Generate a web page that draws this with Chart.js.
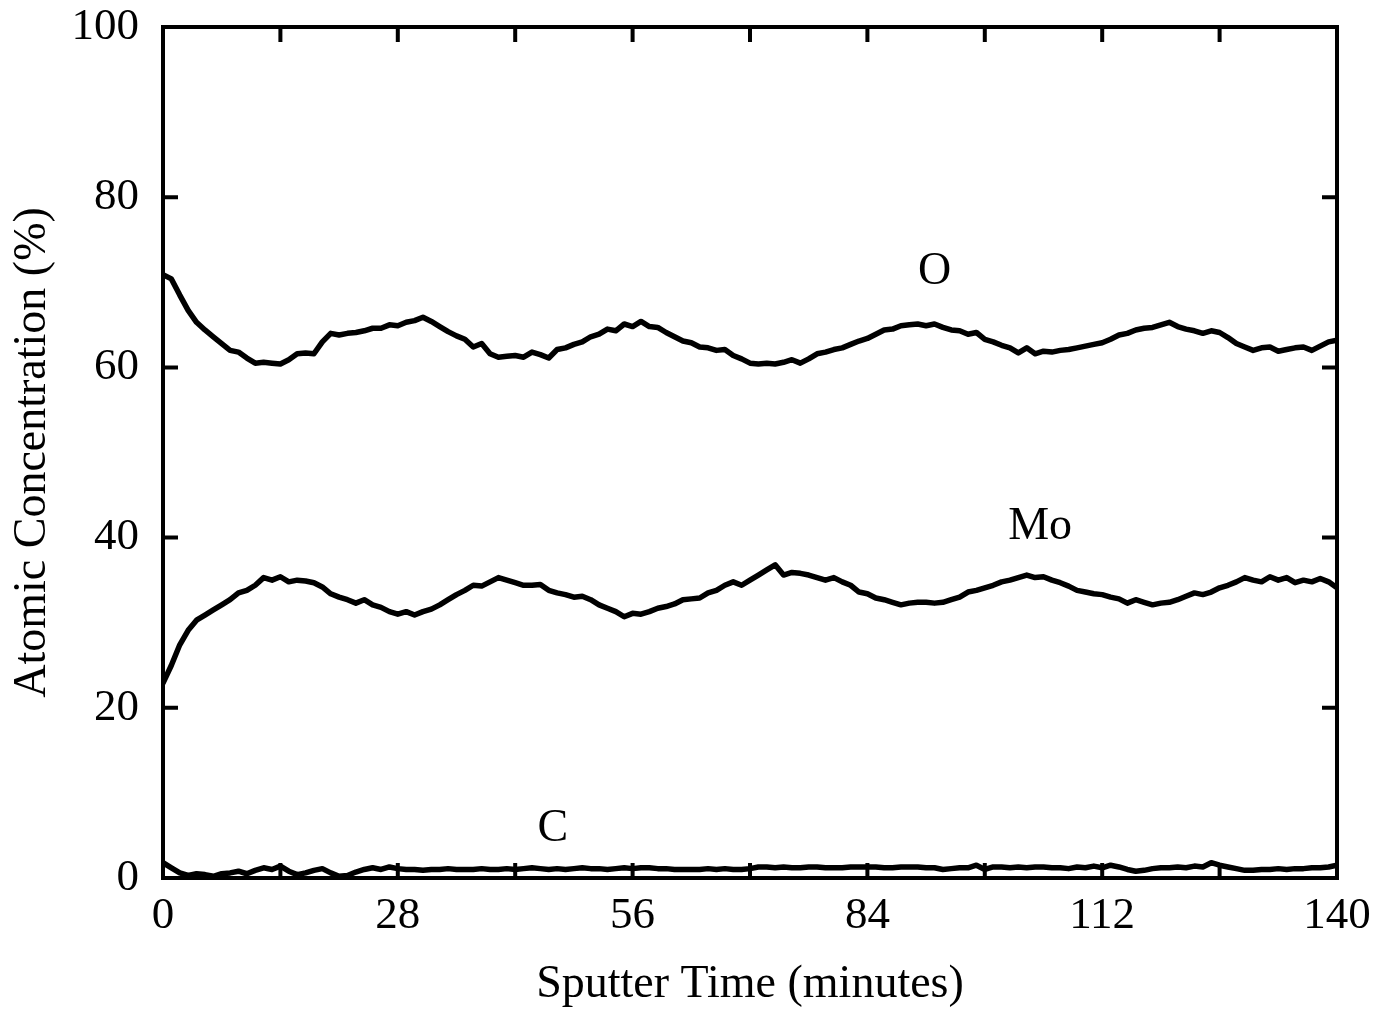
<!DOCTYPE html>
<html>
<head>
<meta charset="utf-8">
<script src="https://cdn.jsdelivr.net/npm/chart.js@4.4.1/dist/chart.umd.min.js"></script>
<style>
  html, body { margin: 0; padding: 0; background: #ffffff; }
  #wrap { width: 1400px; height: 1013px; }
</style>
</head>
<body>
<div id="wrap"><canvas id="c" width="1400" height="1013"></canvas></div>
<script>
// Sputter time grid (minutes)
const time = [];
for (let t = 0; t <= 140; t++) time.push(t);

// Oxygen atomic concentration (%)
const oxygen = [
  70.9,70.4,68.5,66.7,65.3,64.4,63.6,62.8,62.0,61.8,
  61.1,60.5,60.6,60.5,60.4,60.9,61.6,61.7,61.6,63.0,
  64.0,63.8,64.0,64.1,64.3,64.6,64.6,65.0,64.9,65.3,
  65.5,65.9,65.4,64.8,64.2,63.7,63.3,62.4,62.8,61.6,
  61.2,61.3,61.4,61.2,61.8,61.5,61.1,62.1,62.3,62.7,
  63.0,63.6,63.9,64.5,64.3,65.1,64.8,65.4,64.8,64.7,
  64.1,63.6,63.1,62.9,62.4,62.3,62.0,62.1,61.4,61.0,
  60.5,60.4,60.5,60.4,60.6,60.9,60.5,61.0,61.6,61.8,
  62.1,62.3,62.7,63.1,63.4,63.9,64.4,64.5,64.9,65.0,
  65.1,64.9,65.1,64.7,64.4,64.3,63.9,64.1,63.3,63.0,
  62.6,62.3,61.7,62.3,61.6,61.9,61.8,62.0,62.1,62.3,
  62.5,62.7,62.9,63.3,63.8,64.0,64.4,64.6,64.7,65.0,
  65.3,64.8,64.5,64.3,64.0,64.3,64.1,63.5,62.8,62.4,
  62.0,62.3,62.4,61.9,62.1,62.3,62.4,62.0,62.5,63.0,
  63.2
];

// Molybdenum atomic concentration (%)
const molybdenum = [
  22.9,25.0,27.4,29.1,30.3,30.9,31.5,32.1,32.7,33.5,
  33.8,34.4,35.3,35.0,35.4,34.8,35.0,34.9,34.7,34.2,
  33.4,33.0,32.7,32.3,32.7,32.1,31.8,31.3,31.0,31.3,
  30.9,31.3,31.6,32.1,32.7,33.3,33.8,34.4,34.3,34.8,
  35.3,35.0,34.7,34.4,34.4,34.5,33.8,33.5,33.3,33.0,
  33.1,32.7,32.1,31.7,31.3,30.7,31.1,31.0,31.3,31.7,
  31.9,32.2,32.7,32.8,32.9,33.5,33.8,34.4,34.8,34.4,
  35.0,35.6,36.2,36.8,35.6,35.9,35.8,35.6,35.3,35.0,
  35.3,34.8,34.4,33.6,33.4,32.9,32.7,32.4,32.1,32.3,
  32.4,32.4,32.3,32.4,32.7,33.0,33.6,33.8,34.1,34.4,
  34.8,35.0,35.3,35.6,35.3,35.4,35.0,34.7,34.3,33.8,
  33.6,33.4,33.3,33.0,32.8,32.3,32.7,32.4,32.1,32.3,
  32.4,32.7,33.1,33.5,33.3,33.6,34.1,34.4,34.8,35.3,
  35.0,34.8,35.4,35.0,35.3,34.7,35.0,34.8,35.2,34.8,
  34.1
];

// Carbon atomic concentration (%)
const carbon = [
  1.8,1.2,0.6,0.3,0.5,0.4,0.2,0.5,0.6,0.8,
  0.5,0.9,1.2,1.0,1.4,0.8,0.4,0.6,0.9,1.1,
  0.6,0.2,0.3,0.7,1.0,1.2,1.0,1.3,1.1,1.0,
  1.0,0.9,1.0,1.0,1.1,1.0,1.0,1.0,1.1,1.0,
  1.0,1.1,1.0,1.1,1.2,1.1,1.0,1.1,1.0,1.1,
  1.2,1.1,1.1,1.0,1.1,1.2,1.1,1.2,1.2,1.1,
  1.1,1.0,1.0,1.0,1.0,1.1,1.0,1.1,1.0,1.0,
  1.1,1.3,1.3,1.2,1.3,1.2,1.2,1.3,1.3,1.2,
  1.2,1.2,1.3,1.3,1.3,1.3,1.2,1.2,1.3,1.3,
  1.3,1.2,1.2,1.0,1.1,1.2,1.2,1.5,1.0,1.3,
  1.3,1.2,1.3,1.2,1.3,1.3,1.2,1.2,1.1,1.3,
  1.2,1.4,1.2,1.5,1.3,1.0,0.8,0.9,1.1,1.2,
  1.2,1.3,1.2,1.4,1.3,1.8,1.5,1.3,1.1,0.9,
  0.9,1.0,1.0,1.1,1.0,1.1,1.1,1.2,1.2,1.3,
  1.5
];

// Axis ticks
const xTickStep = 14;          // minor tick spacing (minutes)
const xLabelEvery = 28;        // labelled ticks
const yTickStep = 20;

// Curve labels (data coordinates)
const curveNames = ["O", "Mo", "C"];
const curveLabelX = [92.0, 104.6, 46.5];
const curveLabelY = [71.2, 41.2, 5.8];

const FONT = '"Liberation Serif", "Times New Roman", serif';

function toPoints(xs, ys) { return xs.map((x, i) => ({ x: x, y: ys[i] })); }

const framePlugin = {
  id: 'frame',
  afterDatasetsDraw(chart) {
    const { ctx, chartArea: a, scales } = chart;
    const x = scales.x, y = scales.y;
    ctx.save();
    ctx.strokeStyle = '#000';
    ctx.lineWidth = 4;
    ctx.lineCap = 'butt';
    ctx.strokeRect(a.left, a.top, a.right - a.left, a.bottom - a.top);
    const L = 15;
    ctx.beginPath();
    x.ticks.forEach(t => {
      if (t.value <= x.min || t.value >= x.max) return;
      const px = x.getPixelForValue(t.value);
      ctx.moveTo(px, a.top); ctx.lineTo(px, a.top + L);
      ctx.moveTo(px, a.bottom); ctx.lineTo(px, a.bottom - L);
    });
    y.ticks.forEach(t => {
      if (t.value <= y.min || t.value >= y.max) return;
      const py = y.getPixelForValue(t.value);
      ctx.moveTo(a.left, py); ctx.lineTo(a.left + L, py);
      ctx.moveTo(a.right, py); ctx.lineTo(a.right - L, py);
    });
    ctx.stroke();
    ctx.fillStyle = '#000';
    ctx.font = '46px ' + FONT;
    ctx.textAlign = 'center';
    ctx.textBaseline = 'middle';
    curveNames.forEach((n, i) => {
      ctx.fillText(n, x.getPixelForValue(curveLabelX[i]), y.getPixelForValue(curveLabelY[i]));
    });
    ctx.restore();
  }
};

const lineStyle = { borderColor: '#000', borderWidth: 5.5, pointRadius: 0, tension: 0, fill: false, borderJoinStyle: 'round', borderCapStyle: 'round' };

new Chart(document.getElementById('c'), {
  type: 'line',
  data: {
    datasets: [
      Object.assign({ label: 'O', data: toPoints(time, oxygen) }, lineStyle),
      Object.assign({ label: 'Mo', data: toPoints(time, molybdenum) }, lineStyle),
      Object.assign({ label: 'C', data: toPoints(time, carbon) }, lineStyle)
    ]
  },
  options: {
    responsive: false,
    animation: false,
    devicePixelRatio: 1,
    layout: { padding: { top: 27, right: 63, left: 0, bottom: 0 } },
    plugins: { legend: { display: false }, tooltip: { enabled: false } },
    scales: {
      x: {
        type: 'linear', min: 0, max: 140,
        grid: { display: false, drawTicks: false },
        border: { display: false },
        ticks: {
          stepSize: xTickStep, autoSkip: false, maxRotation: 0,
          padding: 11, color: '#000', font: { family: FONT, size: 45 },
          callback: v => (v % xLabelEvery === 0 ? String(v) : '')
        },
        title: { display: true, text: 'Sputter Time (minutes)', color: '#000', font: { family: FONT, size: 46 }, padding: { top: 0, bottom: 0 } },
        afterFit: s => { s.height = 135; s.paddingLeft = 0; s.paddingRight = 0; }
      },
      y: {
        type: 'linear', min: 0, max: 100,
        grid: { display: false, drawTicks: false },
        border: { display: false },
        ticks: { stepSize: yTickStep, padding: 24, color: '#000', font: { family: FONT, size: 45 } },
        title: { display: true, text: 'Atomic Concentration (%)', color: '#000', font: { family: FONT, size: 46 }, padding: { top: 5, bottom: 0 } },
        afterFit: s => { s.width = 163; s.paddingTop = 0; s.paddingBottom = 0; }
      }
    }
  },
  plugins: [framePlugin]
});
</script>
</body>
</html>
